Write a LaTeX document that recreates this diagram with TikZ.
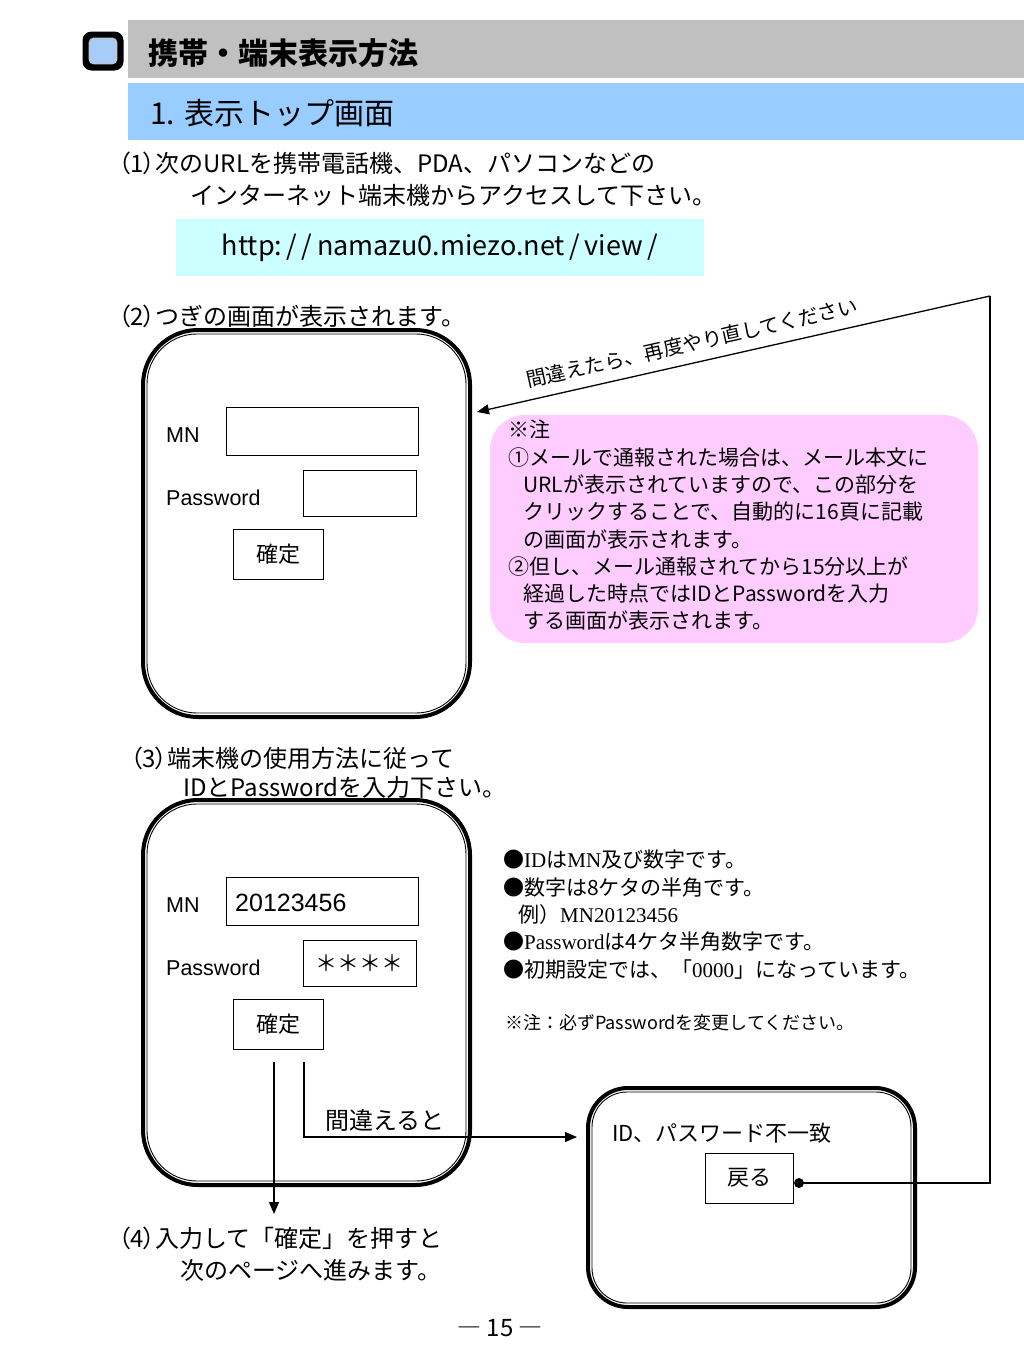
\documentclass[tikz,border=0pt]{standalone}
\usepackage{fontspec}
\setmainfont{Noto Sans CJK JP}
\newfontfamily\tms{Liberation Serif}
\newfontfamily\ars{Liberation Sans}
\usetikzlibrary{arrows.meta}
\definecolor{hdrgray}{HTML}{C0C0C0}
\definecolor{hdrblue}{HTML}{99CCFF}
\definecolor{urlcyan}{HTML}{CCFFFF}
\definecolor{notepink}{HTML}{FFCCFF}
\definecolor{iconblue}{HTML}{A8CCF8}
\definecolor{iconring}{HTML}{B8C8D8}
\newcommand\bodyf{\fontsize{24}{28}\selectfont}
\newcommand\pnum[1]{{\addfontfeature{RawFeature=+palt}（#1）}}
\begin{document}
\begin{tikzpicture}[x=1pt,y=-1pt,
  txt/.style={anchor=west,inner sep=0pt,font=\bodyf},
  phone/.style={draw,line width=4pt,rounded corners=#1,minimum width=327pt},
  field/.style={draw,line width=0.8pt,inner sep=0pt,font=\fontsize{22}{26}\selectfont},
  lbl/.style={anchor=west,inner sep=0pt,font=\ars\fontsize{21.5}{24}\selectfont},
  conn/.style={line width=1.3pt},
  tip/.style={-{Triangle[length=12pt,width=10pt]}}
]
\useasboundingbox (0,0) rectangle (1024,1365);
\fill[white] (0,0) rectangle (1024,1365);

% header
\node[fill=hdrgray,anchor=north west,minimum width=896pt,minimum height=58pt,inner sep=0pt] (bar1) at (128,20) {};
\node[fill=black,rounded corners=9pt,minimum width=41pt,minimum height=39pt,inner sep=0pt] (icon) at (103,51) {};
\node[fill=iconblue,draw=iconring,line width=1.6pt,rounded corners=4pt,minimum width=27pt,minimum height=25pt,inner sep=0pt] (iconin) at (icon.center) {};
\node[txt,font=\fontsize{30}{36}\selectfont\bfseries] (title) at (148,53) {携帯・端末表示方法};
\node[fill=hdrblue,anchor=north west,minimum width=896pt,minimum height=57pt,inner sep=0pt] (bar2) at (128,83) {};
\node[txt,font=\fontsize{30}{36}\selectfont] (sub) at (150,113) {1. 表示トップ画面};

% (1)
\node[txt] (t1a) at (118,163) {\pnum{1}次のURLを携帯電話機、PDA、パソコンなどの};
\node[txt] (t1b) at (190,195) {インターネット端末機からアクセスして下さい。};
\node[fill=urlcyan,minimum width=528pt,minimum height=57pt,inner sep=0pt,font=\fontsize{27}{30}\selectfont] (url) at (440,247.5) {http:\,/\,/\,namazu0.miezo.net\,/\,view\,/};

% (2)
\node[txt] (t2) at (118,316) {\pnum{2}つぎの画面が表示されます。};
\node[phone=55pt,minimum height=387pt] (ph1) at (306.5,523.5) {};
\draw[line width=0.9pt,rounded corners=50pt] ([shift={(6,6)}]ph1.north west) rectangle ([shift={(-6,-6)}]ph1.south east);
\node[lbl] (mn1) at (166,435) {MN};
\node[lbl] (pwl1) at (166,498) {Password};
\node[field,minimum width=192pt,minimum height=48pt] (f1) at (322,431) {};
\node[field,minimum width=113pt,minimum height=46pt] (pw1) at (359.5,493) {};
\node[field,minimum width=90pt,minimum height=50pt] (ok1) at (278,554) {確定};

% note
\node[fill=notepink,rounded corners=35pt,minimum width=488pt,minimum height=228pt] (notebox) at (734,529) {};
\node[anchor=north west,align=left,inner sep=0pt,font=\fontsize{21}{27.3}\selectfont] (notetxt) at (508,420) {※注\\
①メールで通報された場合は、メール本文に\\
\hspace*{15pt}URLが表示されていますので、この部分を\\
\hspace*{15pt}クリックすることで、自動的に16頁に記載\\
\hspace*{15pt}の画面が表示されます。\\
②但し、メール通報されてから15分以上が\\
\hspace*{15pt}経過した時点ではIDとPasswordを入力\\
\hspace*{15pt}する画面が表示されます。};

% return connector
\coordinate (rtop) at (990,296);
\coordinate (rbot) at (990,1183);
\coordinate (rtip) at (477,412);
\node[circle,fill,inner sep=0pt,minimum size=10pt] (dot) at (799,1183) {};
\draw[conn] (dot.center) -- (rbot) -- (rtop);
\draw[conn,tip] (rtop) -- (rtip);
\node[rotate=12.7,inner sep=0pt,font=\fontsize{20}{24}\selectfont] (retry) at (692,343) {間違えたら、再度やり直してください};

% (3)
\node[txt] (t3a) at (130,758) {\pnum{3}端末機の使用方法に従って};
\node[txt] (t3b) at (183,787) {IDとPasswordを入力下さい。};
\node[phone=55pt,minimum height=385pt] (ph2) at (306.5,992.5) {};
\draw[line width=0.9pt,rounded corners=50pt] ([shift={(6,6)}]ph2.north west) rectangle ([shift={(-6,-6)}]ph2.south east);
\node[lbl] (mn2) at (166,905) {MN};
\node[lbl] (pwl2) at (166,968) {Password};
\node[field,minimum width=192pt,minimum height=48pt] (f2) at (322,901) {};
\node[anchor=west,inner sep=0pt,font=\ars\fontsize{25}{28}\selectfont] (v2) at (235,903) {20123456};
\node[field,minimum width=113pt,minimum height=46pt] (pw2) at (359.5,963) {＊＊＊＊};
\node[field,minimum width=90pt,minimum height=50pt] (ok2) at (278,1024.5) {確定};

% bullets
\node[anchor=north west,align=left,inner sep=0pt,font=\fontsize{21}{27.3}\selectfont] (bul) at (503,850) {●{\tms ID}は{\tms MN}及び数字です。\\
●数字は8ケタの半角です。\\
\hspace*{15pt}例）{\tms MN20123456}\\
●{\tms Password}は4ケタ半角数字です。\\
●初期設定では、「{\tms 0000}」になっています。};
\node[anchor=west,inner sep=0pt,font=\fontsize{18}{22}\selectfont] (must) at (505,1023) {※注：必ずPasswordを変更してください。};

% connectors from phone 2
\coordinate (a1) at (274,1062);
\coordinate (a2) at (274,1214);
\draw[conn,tip] (a1) -- (a2);
\coordinate (b1) at (304,1062);
\coordinate (b2) at (577,1137);
\draw[conn,tip] (b1) |- (b2);
\node[txt,font=\fontsize{24}{28}\selectfont] (wrong) at (325,1120) {間違えると};

% (4)
\node[txt] (t4a) at (118,1238) {\pnum{4}入力して「確定」を押すと};
\node[txt] (t4b) at (180,1270) {次のページへ進みます。};

% phone 3
\node[phone=40pt,minimum height=219pt] (ph3) at (751.5,1197.5) {};
\draw[line width=0.9pt,rounded corners=35pt] ([shift={(6,6)}]ph3.north west) rectangle ([shift={(-6,-6)}]ph3.south east);
\node[txt,font=\fontsize{22}{26}\selectfont] (mis) at (612,1133) {ID、パスワード不一致};
\node[field,minimum width=88pt,minimum height=50pt] (back) at (749,1178) {戻る};

% page number
\node[font=\fontsize{24}{28}\selectfont,inner sep=0pt] (pg) at (500,1328) {― 15 ―};
\end{tikzpicture}
\end{document}
